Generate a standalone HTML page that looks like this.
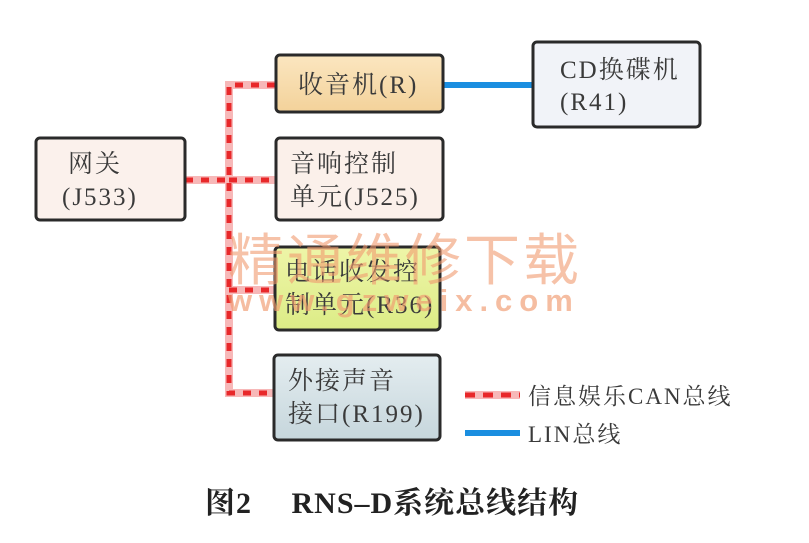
<!DOCTYPE html>
<html><head><meta charset="utf-8"><style>
html,body{margin:0;padding:0;background:#fff;}
svg{display:block;}
.t{font-family:"Liberation Serif","Noto Serif CJK SC","Noto Sans CJK SC",serif;font-size:25px;fill:#3a3a3a;letter-spacing:2px;}
</style></head><body>
<svg width="809" height="543" viewBox="0 0 809 543" xmlns="http://www.w3.org/2000/svg">
<defs>
<linearGradient id="g1" x1="0" y1="0" x2="0" y2="1"><stop offset="0" stop-color="#fbe6c0"/><stop offset="1" stop-color="#f3d29a"/></linearGradient>
<linearGradient id="g3" x1="0" y1="0" x2="0" y2="1"><stop offset="0" stop-color="#eef5a8"/><stop offset="1" stop-color="#dcec86"/></linearGradient>
<linearGradient id="g4" x1="0" y1="0" x2="0" y2="1"><stop offset="0" stop-color="#e4edf0"/><stop offset="1" stop-color="#c6d6dc"/></linearGradient>
</defs>
<g fill="none" stroke-width="8">
<path d="M185 180 H229 M275 85 H229 V393 H273 M229 180 H275 M229 290 H275" stroke="#f7b8b8"/>
<path d="M185 180 H229 M275 85 H229 V393 H273 M229 180 H275 M229 290 H275" stroke="#e8282a" stroke-dasharray="8 8" stroke-width="5"/>
<path d="M465 395 H520" stroke="#f7b8b8"/>
<path d="M465 395 H520" stroke="#e8282a" stroke-dasharray="10 8" stroke-width="5"/>
<path d="M443 85 H533" stroke="#1a8ee0" stroke-width="6"/>
<path d="M465 433 H520" stroke="#1a8ee0" stroke-width="6"/>
</g>
<g stroke="#2a2a2a" stroke-width="3">
<rect x="36" y="138" width="149" height="82" rx="4" fill="#fbf1ec"/>
<rect x="276" y="55" width="167" height="57" rx="4" fill="url(#g1)"/>
<rect x="276" y="138" width="167" height="82" rx="4" fill="#fbf0ea"/>
<rect x="275" y="247" width="165" height="83" rx="4" fill="url(#g3)"/>
<rect x="274" y="355" width="166" height="85" rx="4" fill="url(#g4)"/>
<rect x="533" y="42" width="167" height="85" rx="4" fill="#f1f3f8"/>
</g>
<text class="t" x="68" y="172">网关</text>
<text class="t" x="62" y="205">(J533)</text>
<text class="t" x="298" y="93">收音机(R)</text>
<text class="t" x="290" y="172">音响控制</text>
<text class="t" x="290" y="205">单元(J525)</text>
<text class="t" x="285" y="280">电话收发控</text>
<text class="t" x="285" y="313">制单元(R36)</text>
<text class="t" x="288" y="389">外接声音</text>
<text class="t" x="288" y="422">接口(R199)</text>
<text class="t" x="560" y="78">CD换碟机</text>
<text class="t" x="560" y="110">(R41)</text>
<text class="t" x="528" y="404" style="font-size:23px">信息娱乐CAN总线</text>
<text class="t" x="528" y="442" style="font-size:23px">LIN总线</text>
<text x="228" y="280" style="font-family:'Noto Sans CJK SC',sans-serif;font-size:56px;fill:#f19a70;opacity:0.6;letter-spacing:3px">精通维修下载</text>
<text x="228" y="311" style="font-family:'Liberation Sans',sans-serif;font-weight:bold;font-size:31px;fill:#f19a70;opacity:0.65;letter-spacing:7px">www.gzweix.com</text>
<text x="205" y="513" style="font-family:'Liberation Serif','Noto Serif CJK SC',serif;font-weight:bold;font-size:30px;fill:#222;letter-spacing:1px">图2 　RNS–D系统总线结构</text>
</svg>
</body></html>
